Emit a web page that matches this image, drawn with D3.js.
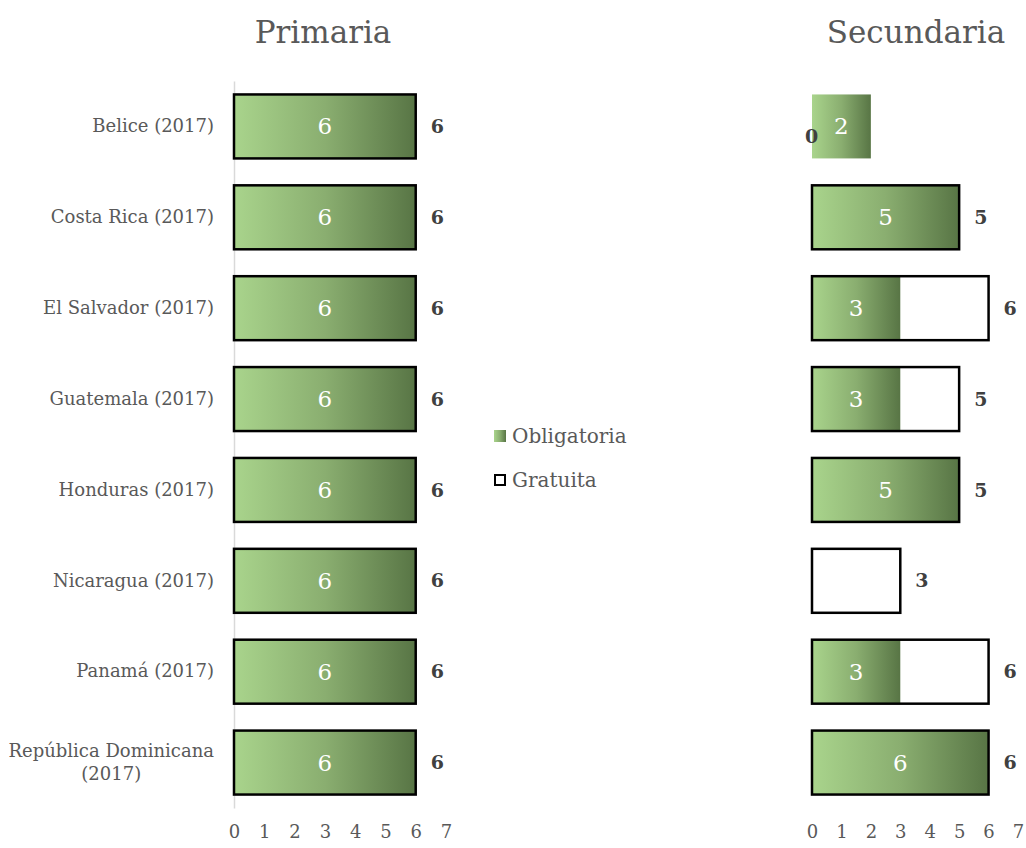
<!DOCTYPE html>
<html>
<head>
<meta charset="utf-8">
<script src="https://cdn.jsdelivr.net/npm/d3@7"></script>
<style>
  body { margin: 0; background: #fff; }
  svg text { font-family: "DejaVu Serif", "Liberation Serif", serif; fill: #595959; }
</style>
</head>
<body>
<div id="myDiv"><svg width="1026" height="848"></svg></div>
<script>
const countries = ["Belice (2017)", "Costa Rica (2017)", "El Salvador (2017)", "Guatemala (2017)",
    "Honduras (2017)", "Nicaragua (2017)", "Panamá (2017)", "República Dominicana\n(2017)"];

const primariaObligatoria = [6, 6, 6, 6, 6, 6, 6, 6];
const primariaGratuita = [6, 6, 6, 6, 6, 6, 6, 6];

const secundariaObligatoria = [2, 5, 3, 3, 5, null, 3, 6];
const secundariaGratuita = [0, 5, 6, 5, 5, 3, 6, 6];

const xTicks = [0, 1, 2, 3, 4, 5, 6, 7];
const seriesNames = ["Obligatoria", "Gratuita"];

const svg = d3.select("#myDiv").select("svg");

// gradient for the obligatoria bars
let grad = svg.append("defs").append("linearGradient")
    .attr("id", "greenGrad")
    .attr("x1", "0%").attr("x2", "100%").attr("y1", "0%").attr("y2", "0%");
grad.append("stop").attr("offset", "0%").attr("stop-color", "#a9d48c");
grad.append("stop").attr("offset", "50%").attr("stop-color", "#8aae70");
grad.append("stop").attr("offset", "100%").attr("stop-color", "#587545");

const y = d3.scaleBand()
    .domain(countries)
    .range([81, 808])
    .paddingInner(0.296)
    .paddingOuter(0.148);

function drawPanel(title, titleX, x0, x1, obl, grat, showYAxis) {
    const x = d3.scaleLinear().domain([0, 7]).range([x0, x1]);
    const g = svg.append("g");

    g.append("text")
        .attr("x", titleX)
        .attr("y", 43)
        .attr("text-anchor", "middle")
        .style("font-size", "31px")
        .text(title);

    let rows = countries.map(function(c, i) {
        return {"Country": c, "Obl": obl[i], "Grat": grat[i]};
    });

    if (showYAxis) {
        let ya = g.append("g")
            .attr("transform", "translate(" + x(0) + ",0)")
            .call(d3.axisLeft(y).tickSize(0).tickPadding(20));
        ya.select(".domain").attr("stroke", "#d9d9d9").attr("stroke-width", 1.5);
        ya.selectAll(".tick text")
            .style("font-size", "18px")
            .style("font-family", null)
            .attr("fill", null)
            .each(function(d) {
                let parts = d.split("\n");
                if (parts.length > 1) {
                    let t = d3.select(this).text(parts[0]);
                    let w = this.getComputedTextLength();
                    t.text(null).attr("text-anchor", "middle");
                    parts.forEach(function(p, k) {
                        t.append("tspan")
                            .attr("x", -20 - w / 2)
                            .attr("dy", k === 0 ? "-0.3em" : "1.25em")
                            .text(p);
                    });
                }
            });
    }

    // obligatoria bars
    g.selectAll(".obl")
        .data(rows.filter(function(d) { return d["Obl"] !== null; }))
        .enter()
        .append("rect")
        .attr("class", "obl")
        .attr("x", x(0))
        .attr("y", function(d) { return y(d["Country"]); })
        .attr("width", function(d) { return x(d["Obl"]) - x(0); })
        .attr("height", y.bandwidth())
        .attr("fill", "url(#greenGrad)");

    // gratuita bars (outline only)
    g.selectAll(".grat")
        .data(rows.filter(function(d) { return d["Grat"] > 0; }))
        .enter()
        .append("rect")
        .attr("class", "grat")
        .attr("x", x(0))
        .attr("y", function(d) { return y(d["Country"]); })
        .attr("width", function(d) { return x(d["Grat"]) - x(0); })
        .attr("height", y.bandwidth())
        .attr("fill", "none")
        .attr("stroke", "#000")
        .attr("stroke-width", 2.5);

    // labels inside obligatoria
    g.selectAll(".oblLabel")
        .data(rows.filter(function(d) { return d["Obl"] !== null; }))
        .enter()
        .append("text")
        .attr("class", "oblLabel")
        .attr("x", function(d) { return (x(0) + x(d["Obl"])) / 2; })
        .attr("y", function(d) { return y(d["Country"]) + y.bandwidth() / 2; })
        .attr("dy", "0.35em")
        .attr("text-anchor", "middle")
        .style("fill", "#fff")
        .style("font-size", "23px")
        .text(function(d) { return d["Obl"]; });

    // labels outside gratuita
    g.selectAll(".gratLabel")
        .data(rows)
        .enter()
        .append("text")
        .attr("class", "gratLabel")
        .attr("x", function(d) { return d["Grat"] > 0 ? x(d["Grat"]) + 15 : x(0) - 7; })
        .attr("y", function(d) { return y(d["Country"]) + y.bandwidth() / 2 + (d["Grat"] > 0 ? 0 : 10); })
        .attr("dy", "0.35em")
        .style("font-size", "19px")
        .style("font-weight", "bold")
        .style("fill", "#404040")
        .text(function(d) { return d["Grat"]; });

    let xa = g.append("g")
        .attr("transform", "translate(0,808)")
        .call(d3.axisBottom(x).tickValues(xTicks).tickSize(0).tickPadding(17).tickFormat(d3.format("d")));
    xa.select(".domain").remove();
    xa.selectAll(".tick text")
        .style("font-size", "18px")
        .style("font-family", null)
        .attr("fill", null);
}

drawPanel("Primaria", 323, 234, 446, primariaObligatoria, primariaGratuita, true);
drawPanel("Secundaria", 916, 812, 1018, secundariaObligatoria, secundariaGratuita, false);

// legend
let legend = svg.append("g").attr("transform", "translate(494,430)");
seriesNames.forEach(function(name, i) {
    let item = legend.append("g").attr("transform", "translate(0," + (i * 44) + ")");
    if (i === 0) {
        item.append("rect").attr("width", 12).attr("height", 12).attr("fill", "url(#greenGrad)");
    } else {
        item.append("rect").attr("x", 1).attr("y", 1).attr("width", 10).attr("height", 10)
            .attr("fill", "#fff").attr("stroke", "#000").attr("stroke-width", 2);
    }
    item.append("text")
        .attr("x", 18)
        .attr("y", 6)
        .attr("dy", "0.35em")
        .style("font-size", "20px")
        .text(name);
});
</script>
</body>
</html>
